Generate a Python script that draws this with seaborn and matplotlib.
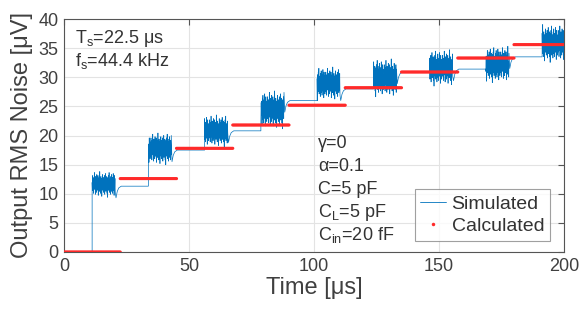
import numpy as np
import pandas as pd
import matplotlib
matplotlib.use("Agg")
import matplotlib.pyplot as plt
from matplotlib.lines import Line2D
import seaborn as sns

# ---------------- data ----------------
period = 22.5
calc_levels = [0.0, 12.6, 17.8, 21.8, 25.2, 28.2, 30.9, 33.3, 35.6]
burst_start = [11.25, 33.75, 56.25, 78.75, 101.25, 123.75, 146.25, 168.75, 191.25]
burst_end = [20.5, 42.9, 65.5, 88.0, 110.4, 133.0, 155.5, 178.0, 200.0]
burst_mean = [11.6, 17.7, 20.8, 24.4, 28.9, 29.9, 31.6, 32.2, 35.8]
burst_half = [1.7, 2.1, 2.1, 2.5, 2.2, 2.5, 2.4, 2.4, 2.5]
first_burst_jump = 6.0
hold_level = [11.3, 17.5, 20.8, 26.0, 28.0, 30.9, 31.4, 33.5]
recovery_dt = [0.3, 0.8, 1.4, 2.4]
recovery_dv = [-2.0, -0.9, -0.3, 0.0]
noise_offsets = [0.2, -0.6, 0.9, -0.3, 0.5, -0.9, 0.7, -0.2, 1.2, -0.5,
                 0.4, -1.0, 0.8, -0.4, 0.3, -0.8, 1.0, -0.6, 0.6, -0.2,
                 0.9, -1.1, 0.5, -0.3, 0.7, -0.7, 1.3, -0.4, 0.2, -0.9,
                 0.8, -0.5, 0.6, -1.2, 0.4, -0.3, 1.0, -0.6, 0.7, -0.8,
                 0.3, -0.4, 0.9, -1.0, 0.6, -0.2, 1.1, -0.7, 0.5, -0.5,
                 0.8, -0.9, 0.4, -1.3, 0.7, -0.3, 0.9, -0.6, 1.2, -0.8,
                 0.5, -0.4, 0.6, -1.0, 0.8, -0.2, 1.0, -0.7, 0.3, -0.9,
                 0.7, -0.5, 1.1, -0.6, 0.4, -1.1, 0.9, -0.3, 0.6, -0.8]
x_ticks = [0, 50, 100, 150, 200]
y_ticks = [0, 5, 10, 15, 20, 25, 30, 35, 40]
x_label = "Time [\u03bcs]"
y_label = "Output RMS Noise [\u03bcV]"

# ---------------- build series ----------------
sim_t = [0.0]
sim_v = [0.0]
for k in range(len(burst_start)):
    s, e = burst_start[k], burst_end[k]
    prev = 0.0 if k == 0 else hold_level[k - 1]
    sim_t.append(s)
    sim_v.append(prev)
    if k == 0:
        sim_t.append(s)
        sim_v.append(first_burst_jump)
    offs = np.roll(np.array(noise_offsets), 7 * k)
    ts = np.linspace(s, e, len(offs))
    vs = burst_mean[k] + burst_half[k] * offs
    sim_t.extend(ts.tolist())
    sim_v.extend(vs.tolist())
    if k < len(hold_level):
        for dt, dv in zip(recovery_dt, recovery_dv):
            sim_t.append(e + dt)
            sim_v.append(hold_level[k] + dv)
sim = pd.DataFrame({"t": sim_t, "v": sim_v})

calc_t, calc_v = [], []
for k, lev in enumerate(calc_levels):
    t0 = k * period
    t1 = min((k + 1) * period, 200.0)
    tt = np.arange(t0, t1 + 1e-9, 0.45)
    calc_t.extend(tt.tolist())
    calc_v.extend([lev] * len(tt))
calc = pd.DataFrame({"t": calc_t, "v": calc_v})

# ---------------- plot ----------------
sns.set_theme(style="white")
plt.rcParams["font.family"] = ["Liberation Sans", "DejaVu Sans"]
plt.rcParams["mathtext.fontset"] = "custom"
plt.rcParams["mathtext.rm"] = "Liberation Sans"
plt.rcParams["mathtext.it"] = "Liberation Sans"

txt = "#333333"
lab = "#404040"
fig = plt.figure(figsize=(5.81, 3.16), dpi=100)
ax = fig.add_axes([64 / 581, 1 - 252 / 316, 500 / 581, 233 / 316])

blue = "#0072BD"
red = "#ff2a2a"
sns.lineplot(data=sim, x="t", y="v", sort=False, estimator=None, ax=ax,
             color=blue, linewidth=0.5, zorder=2, legend=False)
sns.scatterplot(data=calc, x="t", y="v", ax=ax, color=red, s=5,
                edgecolor="none", linewidth=0, zorder=3, legend=False)

ax.set_xlim(0, 200)
ax.set_ylim(0, 40)
ax.set_xticks(x_ticks)
ax.set_yticks(y_ticks)
ax.grid(True, color="#e3e3e3", linewidth=0.8)
ax.set_axisbelow(True)
for sp in ax.spines.values():
    sp.set_color("#555555")
    sp.set_linewidth(0.8)
ax.tick_params(direction="in", top=True, right=True, length=4, width=0.8,
               colors="#555555", labelcolor=lab, labelsize=13, pad=4)
ax.set_xlabel(x_label, fontsize=17, color=lab, labelpad=2)
ax.set_ylabel(y_label, fontsize=17, color=lab, labelpad=4)

ax.text(4.4, 36.6, "T$_\\mathregular{s}$=22.5 \u03bcs", fontsize=13, color=txt, va="center")
ax.text(4.4, 32.8, "f$_\\mathregular{s}$=44.4 kHz", fontsize=13, color=txt, va="center")
params = ["\u03b3=0", "\u03b1=0.1", "C=5 pF", "C$_\\mathregular{L}$=5 pF",
          "C$_\\mathregular{in}$=20 fF"]
ys = [18.6, 14.7, 10.8, 6.8, 2.9]
for p, yv in zip(params, ys):
    ax.text(101.6, yv, p, fontsize=13, color=txt, va="center")

handles = [Line2D([], [], color=blue, linewidth=0.6),
           Line2D([], [], color=red, marker="o", linestyle="none", markersize=2.5,
                  markeredgewidth=0)]
leg = ax.legend(handles, ["Simulated", "Calculated"], loc="lower right",
                bbox_to_anchor=(0.972, 0.047), fontsize=14, frameon=True,
                fancybox=False, edgecolor="#888888", handlelength=1.3,
                handletextpad=0.3, borderpad=0.3, labelspacing=0.25,
                borderaxespad=0)
leg.get_frame().set_linewidth(0.8)
for t in leg.get_texts():
    t.set_color(txt)

fig.savefig("out.png", dpi=100)
